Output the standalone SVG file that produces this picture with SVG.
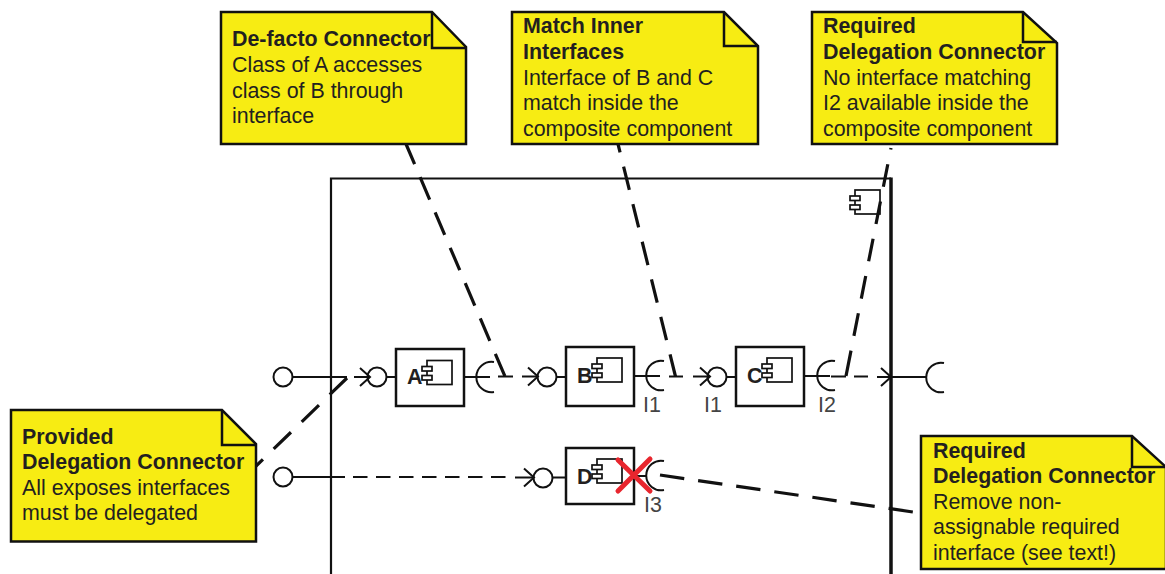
<svg xmlns="http://www.w3.org/2000/svg" width="1165" height="574" viewBox="0 0 1165 574">
<style>
text{font-family:"Liberation Sans",Arial,sans-serif;font-size:21.4px;fill:#231f20}
.b{font-weight:bold}
.note{fill:#f7ec13;stroke:#111;stroke-width:2.5}
.fold{fill:none;stroke:#111;stroke-width:2.5}
.box{fill:#fff;stroke:#111;stroke-width:2.5}
.th{fill:none;stroke:#111;stroke-width:2}
.ic{fill:#fff;stroke:#111;stroke-width:1.7}
.dash{fill:none;stroke:#111;stroke-width:3.2}
.dh{fill:none;stroke:#111;stroke-width:2}
.lb{fill:#444}
</style>
<defs>
<marker id="arr" markerUnits="userSpaceOnUse" markerWidth="14" markerHeight="22" refX="11" refY="11" orient="auto"><path d="M1 2L11 11L1 20" fill="none" stroke="#111" stroke-width="2"/></marker>
<g id="icon"><rect class="ic" x="5" y="0" width="25" height="24"/><rect class="ic" x="0" y="6" width="10" height="4.500"/><rect class="ic" x="0" y="15" width="10" height="4.500"/></g>
</defs>
<g id="frame"><path d="M331 574V178.500H891" fill="none" stroke="#111" stroke-width="2.200"/><path d="M891 177.500V574" fill="none" stroke="#111" stroke-width="3.500"/><use href="#icon" x="850" y="190"/></g>
<g id="connectors">
<path class="th" d="M292.500 377H347"/>
<path class="th" marker-end="url(#arr)" d="M354 377H370"/>
<path class="dh" d="M498 376.500H513"/>
<path class="th" marker-end="url(#arr)" d="M522 376.500H538"/>
<path class="dh" d="M669 376.500H683"/>
<path class="th" marker-end="url(#arr)" d="M693 376.500H710"/>
<path class="dh" d="M831 376.500H846M854 376.500H868"/>
<path class="th" marker-end="url(#arr)" d="M877 377H891"/>
<path class="th" d="M891 377H926"/>
<path class="th" d="M292.500 477H345"/>
<path class="dh" stroke-dasharray="14.500 8.500" d="M353 477H506"/>
<path class="th" marker-end="url(#arr)" d="M515 477.500H534"/>
<path class="dash" stroke-dasharray="24.400 14" stroke-dashoffset="2.400" d="M406 144L505 376.500"/>
<path class="dash" stroke-dasharray="24 14.700" stroke-dashoffset="15.400" d="M618 144L675.500 376.500"/>
<path class="dash" stroke-dasharray="1.500 15 23 15 23 15 23 15 23 15 23 15 26" d="M891 148L846 376"/>
<path class="dash" stroke-dasharray="24 15" d="M347 378L255 467"/>
<path class="dash" stroke-dasharray="24.500 14" d="M660 475L913 512"/>
</g>
<g id="note-defacto"><path class="note" d="M221 12H432L466 47V144H221Z"/><path class="fold" d="M432 12V48H467"/><text class="b" x="232" y="46">De-facto Connector</text><text x="232" y="72">Class of A accesses</text><text x="232" y="98">class of B through</text><text x="232" y="123">interface</text></g>
<g id="note-match"><path class="note" d="M512 12H724L758 46V144H512Z"/><path class="fold" d="M724 12V46H758"/><text class="b" x="523" y="33">Match Inner</text><text class="b" x="523" y="59">Interfaces</text><text x="523" y="85">Interface of B and C</text><text x="523" y="110">match inside the</text><text x="523" y="136">composite component</text></g>
<g id="note-required"><path class="note" d="M812 12H1023L1057 43V144H812Z"/><path class="fold" d="M1023 12V42H1057"/><text class="b" x="823" y="33">Required</text><text class="b" x="823" y="59">Delegation Connector</text><text x="823" y="85">No interface matching</text><text x="823" y="110">I2 available inside the</text><text x="823" y="136">composite component</text></g>
<g id="note-provided"><path class="note" d="M11 410H222L256 444V541.500H11Z"/><path class="fold" d="M222 410V445H256"/><text class="b" x="22" y="444">Provided</text><text class="b" x="22" y="469">Delegation Connector</text><text x="22" y="495">All exposes interfaces</text><text x="22" y="520">must be delegated</text></g>
<g id="note-remove"><path class="note" d="M921 436H1132L1166 467V569H921Z"/><path class="fold" d="M1132 436V467H1166"/><text class="b" x="933" y="458">Required</text><text class="b" x="933" y="483">Delegation Connector</text><text x="933" y="509">Remove non-</text><text x="933" y="534">assignable required</text><text x="933" y="560">interface (see text!)</text></g>
<g id="port-p1"><circle class="th" cx="283" cy="377" r="9.500"/></g>
<g id="port-p2"><circle class="th" cx="283" cy="477" r="9.500"/></g>
<g id="comp-a"><circle class="th" cx="377" cy="377" r="9.500"/><path class="th" d="M386.500 377H396M464 377H490M494 362A15.200 15.200 0 1 0 494 392"/><rect class="box" x="396" y="349" width="68" height="57"/><use href="#icon" x="422" y="360.500"/><text class="b" x="407" y="384">A</text></g>
<g id="comp-b"><circle class="th" cx="547" cy="377" r="9.500"/><path class="th" d="M556.500 377H566M634 376H660M664 361A14.800 14.800 0 1 0 664 390"/><rect class="box" x="566" y="347" width="68" height="59"/><use href="#icon" x="592" y="358"/><text class="b" x="577" y="383">B</text></g>
<g id="comp-c"><circle class="th" cx="717" cy="377" r="9.500"/><path class="th" d="M726.500 377H736M804 376H830M835 361A14.800 14.800 0 1 0 835 390"/><rect class="box" x="736" y="347" width="68" height="59"/><use href="#icon" x="762" y="358"/><text class="b" x="747" y="383">C</text></g>
<g id="port-out"><path class="th" d="M944 363A14.800 14.800 0 1 0 944 392"/></g>
<g id="comp-d"><circle class="th" cx="543" cy="478" r="9.500"/><path class="th" d="M552.500 477.500H566M634 476H647M664 461A14.800 14.800 0 1 0 664 490"/><rect class="box" x="566" y="448" width="68" height="56"/><use href="#icon" x="592" y="459"/><text class="b" x="577" y="484">D</text><path d="M618 491L650 459M618 460L650 491" fill="none" stroke="#e8262e" stroke-width="5" stroke-linecap="round"/></g>
<g id="labels"><text class="lb" x="643" y="412">I1</text><text class="lb" x="704" y="412">I1</text><text class="lb" x="818" y="412">I2</text><text class="lb" x="644" y="512">I3</text></g>
</svg>
